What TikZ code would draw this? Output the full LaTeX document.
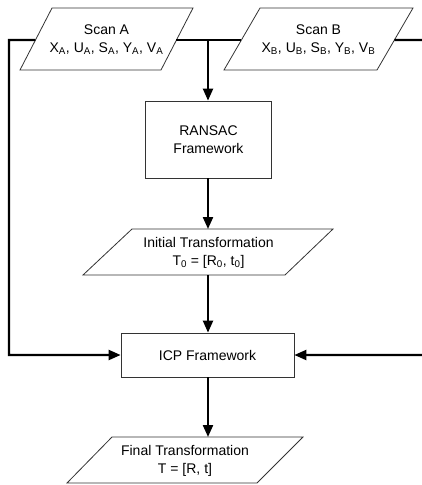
\documentclass[tikz,border=0pt]{standalone}
\usepackage{fontspec}
\setmainfont{Liberation Sans}
\usetikzlibrary{arrows.meta,calc}
\begin{document}
\begin{tikzpicture}[x=1pt,y=-1pt,
  shapeline/.style={draw=black!80,line width=0.8pt},
  conn/.style={line width=2.2pt,draw=black},
  arr/.style={-{Triangle[length=12pt,width=10pt]}},
  lbl/.style={align=center,font=\fontsize{14}{18}\selectfont,inner sep=0pt},
  procbox/.style={shapeline,lbl}
]
\useasboundingbox (0,0) rectangle (422,485);

% Scan A
\coordinate (atl) at (52,8);  \coordinate (atr) at (193,8);
\coordinate (abr) at (161,70); \coordinate (abl) at (20,70);
\draw[shapeline] (atl) -- (atr) -- (abr) -- (abl) -- cycle;
\node[lbl] (scana) at (106.5,39.5) {Scan A\\X\textsubscript{A}, U\textsubscript{A}, S\textsubscript{A}, Y\textsubscript{A}, V\textsubscript{A}};
\coordinate (aw) at ($(atl)!0.516!(abl)$);
\coordinate (ae) at ($(atr)!0.516!(abr)$);

% Scan B
\coordinate (btl) at (260,8);  \coordinate (btr) at (413,8);
\coordinate (bbr) at (377,70); \coordinate (bbl) at (224,70);
\draw[shapeline] (btl) -- (btr) -- (bbr) -- (bbl) -- cycle;
\node[lbl] (scanb) at (318.5,39.5) {Scan B\\X\textsubscript{B}, U\textsubscript{B}, S\textsubscript{B}, Y\textsubscript{B}, V\textsubscript{B}};
\coordinate (bw) at ($(btl)!0.516!(bbl)$);
\coordinate (be) at ($(btr)!0.516!(bbr)$);

% RANSAC
\node[procbox,minimum width=126pt,minimum height=77pt] (ransac) at (208.5,139.5) {RANSAC\\Framework};

% Initial transformation
\coordinate (itl) at (132,229); \coordinate (itr) at (333,229);
\coordinate (ibr) at (285,275); \coordinate (ibl) at (83,275);
\draw[shapeline] (itl) -- (itr) -- (ibr) -- (ibl) -- cycle;
\node[lbl] (init) at (208.5,252.5) {Initial Transformation\\T\textsubscript{0} = [R\textsubscript{0}, t\textsubscript{0}]};
\coordinate (in) at (208,229);
\coordinate (is) at (208,275);

% ICP
\node[procbox,minimum width=173pt,minimum height=44pt] (icp) at (207.5,355) {ICP Framework};

% Final transformation
\coordinate (ftl) at (112,437); \coordinate (ftr) at (303,437);
\coordinate (fbr) at (257,483); \coordinate (fbl) at (67,483);
\draw[shapeline] (ftl) -- (ftr) -- (fbr) -- (fbl) -- cycle;
\node[lbl] (final) at (185,460.5) {Final Transformation\\T = [R, t]};
\coordinate (fn) at (208,437);

% connectors
\coordinate (junc) at (208,40);
\coordinate (lc) at (9,40);
\coordinate (rc) at (430,40);
\draw[conn] (ae) -- (bw);
\draw[conn,arr] (junc) -- (junc |- ransac.north);
\draw[conn,arr] (aw) -- (lc) |- (icp.west);
\draw[conn,arr] (be) -- (rc) |- (icp.east);
\draw[conn,arr] (ransac.south -| junc) -- (in);
\draw[conn,arr] (is) -- (is |- icp.north);
\draw[conn,arr] (icp.south -| fn) -- (fn);
\end{tikzpicture}
\end{document}
